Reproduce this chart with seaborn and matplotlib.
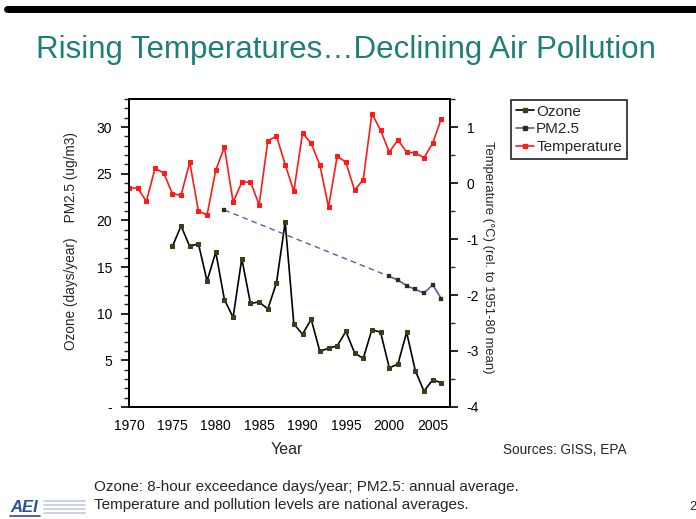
import matplotlib
matplotlib.use("Agg")
import matplotlib.pyplot as plt
import seaborn as sns
import pandas as pd
from matplotlib.ticker import MultipleLocator, FixedLocator
from matplotlib.lines import Line2D

# ---------------- data ----------------
oz_years = list(range(1975, 2007))
oz_vals = [17.2, 19.4, 17.2, 17.5, 13.5, 16.6, 11.5, 9.6, 15.9, 11.1, 11.25, 10.5,
           13.3, 19.8, 8.9, 7.8, 9.4, 5.95, 6.3, 6.55, 8.1, 5.8, 5.2, 8.3, 8.0,
           4.2, 4.6, 8.0, 3.9, 1.7, 2.9, 2.6]

pm_years = [1981, 2000, 2001, 2002, 2003, 2004, 2005, 2006]
pm_vals = [21.1, 14.0, 13.6, 13.0, 12.6, 12.2, 13.1, 11.6]

temp_years = list(range(1970, 2007))
temp_vals = [-0.09, -0.09, -0.33, 0.26, 0.18, -0.19, -0.22, 0.37, -0.50, -0.57,
             0.23, 0.64, -0.34, 0.01, 0.02, -0.39, 0.75, 0.84, 0.33, -0.15,
             0.89, 0.71, 0.32, -0.43, 0.48, 0.37, -0.13, 0.06, 1.24, 0.94,
             0.55, 0.77, 0.55, 0.54, 0.45, 0.71, 1.15]

left_ticks = [0, 5, 10, 15, 20, 25, 30]
left_labels = ["-", "5", "10", "15", "20", "25", "30"]
right_ticks = [-4, -3, -2, -1, 0, 1]
x_ticks = [1970, 1975, 1980, 1985, 1990, 1995, 2000, 2005]

series_names = ["Ozone", "PM2.5", "Temperature"]

# ---------------- style ----------------
sns.set_style("white")
plt.rcParams['font.family'] = ['Liberation Sans', 'DejaVu Sans']

W, H = 696, 519
fig = plt.figure(figsize=(W / 100, H / 100), dpi=100)
ax = fig.add_axes([129 / W, 1 - 407 / H, (450 - 129) / W, (407 - 99) / H])
ax2 = ax.twinx()

df_oz = pd.DataFrame({"Year": oz_years, "Value": oz_vals})
df_pm = pd.DataFrame({"Year": pm_years, "Value": pm_vals})
df_t = pd.DataFrame({"Year": temp_years, "Value": temp_vals})

oz_color = "black"
oz_mk = "#34421a"
pm_color = "#5a5ab4"
pm_mk = "#2a2f18"
t_color = "#ff1a1a"

sns.lineplot(data=df_oz, x="Year", y="Value", ax=ax, color=oz_color, lw=1.2,
             marker="s", markersize=2.6, markerfacecolor=oz_mk,
             markeredgecolor=oz_mk, legend=False)
# dashed PM2.5 segment bridging the gap
sns.lineplot(data=df_pm.iloc[:2], x="Year", y="Value", ax=ax, color=pm_color,
             lw=1.0, linestyle=(0, (4, 3)), legend=False)
sns.lineplot(data=df_pm.iloc[1:], x="Year", y="Value", ax=ax, color=pm_color,
             lw=1.2, legend=False)
sns.scatterplot(data=df_pm, x="Year", y="Value", ax=ax, color=pm_mk,
                marker="s", s=7, edgecolor=pm_mk, legend=False, zorder=5)

sns.lineplot(data=df_t, x="Year", y="Value", ax=ax2, color=t_color, lw=1.2,
             marker="s", markersize=2.2, markerfacecolor=t_color,
             markeredgecolor=t_color, legend=False)

# ---------------- axes ----------------
ax.set_xlim(1970, 2007)
ax.set_ylim(0, 33)
ax2.set_ylim(-4, 1.5)

ax.xaxis.set_major_locator(FixedLocator(x_ticks))
ax.xaxis.set_minor_locator(MultipleLocator(1))
ax.set_xticklabels([str(t) for t in x_ticks])
ax.yaxis.set_major_locator(FixedLocator(left_ticks))
ax.set_yticklabels(left_labels)
ax.yaxis.set_minor_locator(MultipleLocator(1))
ax2.yaxis.set_major_locator(FixedLocator(right_ticks))
ax2.set_yticklabels([str(t) for t in right_ticks])
ax2.yaxis.set_minor_locator(MultipleLocator(0.5))

for a in (ax, ax2):
    for s in a.spines.values():
        s.set_visible(True)
        s.set_color("black")
        s.set_linewidth(1.3)
    a.grid(False)

ax.tick_params(axis="x", which="major", direction="inout", length=8, width=1.2,
               labelsize=10, pad=5, colors="black")
ax.tick_params(axis="x", which="minor", direction="out", length=4, width=1.0)
ax.tick_params(axis="y", which="major", direction="out", length=6, width=1.2,
               labelsize=10, pad=6, left=True, colors="black")
ax.tick_params(axis="y", which="minor", direction="out", length=3.5, width=1.0, left=True)
ax2.tick_params(axis="y", which="major", direction="out", length=6, width=1.2,
                labelsize=10, pad=6, right=True, colors="black")
ax2.tick_params(axis="y", which="minor", direction="out", length=3.5, width=1.0, right=True)

ax.set_xlabel("")
ax.set_ylabel("")
ax2.set_ylabel("")

# ---------------- text ----------------
fig.text(287 / W, 1 - 450 / H, "Year", ha="center", va="center", fontsize=11.5)
fig.text(71 / W, 1 - 241 / H, "Ozone (days/year)    PM2.5 (ug/m3)", rotation=90,
         ha="center", va="center", fontsize=9.8)
fig.text(488 / W, 1 - 257 / H, "Temperature (\u00b0C) (rel. to 1951-80 mean)",
         rotation=270, ha="center", va="center", fontsize=9.4)

fig.text(346 / W, 1 - 50 / H, "Rising Temperatures\u2026Declining Air Pollution",
         ha="center", va="center", fontsize=22.5, color="#1f7f78")

fig.text(565 / W, 1 - 450 / H, "Sources: GISS, EPA", ha="center", va="center",
         fontsize=9.8)
fig.text(94 / W, 1 - 487 / H, "Ozone: 8-hour exceedance days/year; PM2.5: annual average.",
         ha="left", va="center", fontsize=11)
fig.text(94 / W, 1 - 505 / H, "Temperature and pollution levels are national averages.",
         ha="left", va="center", fontsize=11)
fig.text(689 / W, 1 - 507 / H, "2", ha="left", va="center", fontsize=9)

# top black bar
fig.add_artist(Line2D([7 / W, 1.0], [1 - 9 / H, 1 - 9 / H], color="black",
                      lw=5, transform=fig.transFigure))
# AEI logo
fig.text(10 / W, 1 - 507 / H, "AEI", ha="left", va="center", fontsize=12,
         fontweight="bold", style="italic", color="#2a4f9c")
for yy in [501, 505, 509, 513]:
    fig.add_artist(Line2D([44 / W, 85 / W], [1 - yy / H, 1 - yy / H],
                          color="#c5cfe3", lw=1.3, transform=fig.transFigure))
fig.add_artist(Line2D([10 / W, 40 / W], [1 - 516 / H, 1 - 516 / H],
                      color="#2a4f9c", lw=1.2, transform=fig.transFigure))

# ---------------- legend ----------------
handles = [
    Line2D([], [], color=oz_color, lw=1.2, marker="s", markersize=2.5,
           markerfacecolor=oz_mk, markeredgecolor=oz_mk),
    Line2D([], [], color=pm_color, lw=1.2, marker="s", markersize=2.5,
           markerfacecolor=pm_mk, markeredgecolor=pm_mk),
    Line2D([], [], color=t_color, lw=1.2, marker="s", markersize=2.2,
           markerfacecolor=t_color, markeredgecolor=t_color),
]
leg = fig.legend(handles, series_names, loc="upper left",
                 bbox_to_anchor=(511 / W, 1 - 100 / H), frameon=True,
                 fontsize=11, handlelength=1.2, handletextpad=0.15,
                 borderpad=0.3, labelspacing=0.25, fancybox=False,
                 borderaxespad=0)
leg.get_frame().set_edgecolor("black")
leg.get_frame().set_linewidth(1.3)

fig.savefig("out.png", dpi=100)
